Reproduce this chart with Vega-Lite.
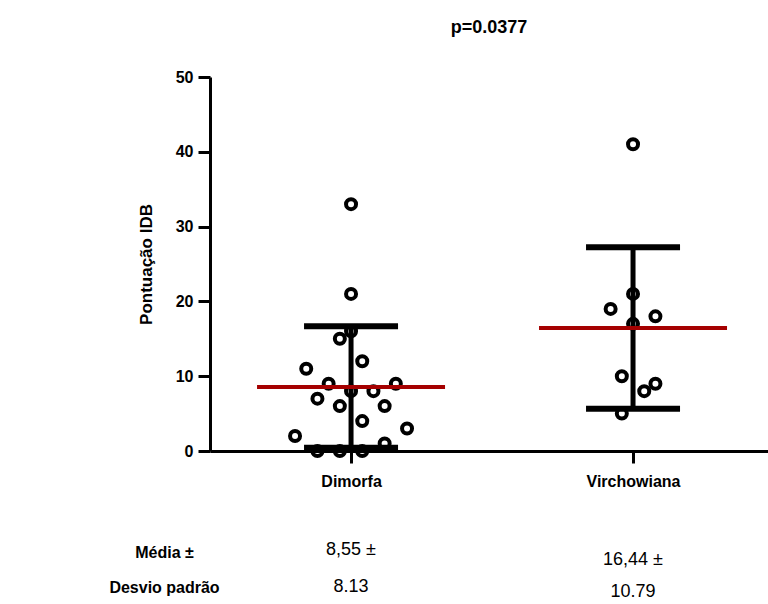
{
  "$schema": "https://vega.github.io/schema/vega-lite/v6.json",
  "autosize": {"type": "none"},
  "width": 558,
  "height": 374,
  "padding": {"left": 210, "top": 77, "right": 0, "bottom": 153},
  "background": "white",
  "title": {
    "text": "p=0.0377",
    "font": "Liberation Sans",
    "fontSize": 18,
    "fontWeight": "bold",
    "color": "black",
    "anchor": "middle",
    "frame": "group",
    "offset": 32
  },
  "config": {
    "view": {"stroke": null},
    "axis": {"grid": false}
  },
  "datasets": {
    "pontos": [
      {"grupo": "Dimorfa", "idb": 33, "col": 0},
      {"grupo": "Dimorfa", "idb": 21, "col": 0},
      {"grupo": "Dimorfa", "idb": 16, "col": 0},
      {"grupo": "Dimorfa", "idb": 15, "col": -1},
      {"grupo": "Dimorfa", "idb": 12, "col": 1},
      {"grupo": "Dimorfa", "idb": 11, "col": -4},
      {"grupo": "Dimorfa", "idb": 9, "col": -2},
      {"grupo": "Dimorfa", "idb": 9, "col": 4},
      {"grupo": "Dimorfa", "idb": 8, "col": 0},
      {"grupo": "Dimorfa", "idb": 8, "col": 2},
      {"grupo": "Dimorfa", "idb": 7, "col": -3},
      {"grupo": "Dimorfa", "idb": 6, "col": -1},
      {"grupo": "Dimorfa", "idb": 6, "col": 3},
      {"grupo": "Dimorfa", "idb": 4, "col": 1},
      {"grupo": "Dimorfa", "idb": 3, "col": 5},
      {"grupo": "Dimorfa", "idb": 2, "col": -5},
      {"grupo": "Dimorfa", "idb": 1, "col": 3},
      {"grupo": "Dimorfa", "idb": 0, "col": -3},
      {"grupo": "Dimorfa", "idb": 0, "col": -1},
      {"grupo": "Dimorfa", "idb": 0, "col": 1},
      {"grupo": "Virchowiana", "idb": 41, "col": 0},
      {"grupo": "Virchowiana", "idb": 21, "col": 0},
      {"grupo": "Virchowiana", "idb": 19, "col": -2},
      {"grupo": "Virchowiana", "idb": 18, "col": 2},
      {"grupo": "Virchowiana", "idb": 17, "col": 0},
      {"grupo": "Virchowiana", "idb": 10, "col": -1},
      {"grupo": "Virchowiana", "idb": 9, "col": 2},
      {"grupo": "Virchowiana", "idb": 8, "col": 1},
      {"grupo": "Virchowiana", "idb": 5, "col": -1}
    ],
    "resumo": [
      {"grupo": "Dimorfa", "media": 8.55, "inf": 0.42, "sup": 16.68},
      {"grupo": "Virchowiana", "media": 16.44, "inf": 5.65, "sup": 27.23}
    ],
    "tabela": [
      {"grupo": "Dimorfa", "linha": -13.3, "texto": "8,55 ±"},
      {"grupo": "Dimorfa", "linha": -18.2, "texto": "8.13"},
      {"grupo": "Virchowiana", "linha": -14.6, "texto": "16,44 ±"},
      {"grupo": "Virchowiana", "linha": -18.9, "texto": "10.79"}
    ]
  },
  "encoding": {
    "x": {
      "field": "grupo",
      "type": "nominal",
      "sort": ["Dimorfa", "Virchowiana"],
      "scale": {"type": "point", "domain": ["Dimorfa", "Virchowiana"], "padding": 0.4894, "align": 0.511},
      "axis": {
        "labelAngle": 0,
        "labelFont": "Liberation Sans",
        "labelFontSize": 16,
        "labelFontWeight": "bold",
        "labelColor": "black",
        "labelPadding": 10,
        "domainColor": "black",
        "domainWidth": 3,
        "tickColor": "black",
        "tickWidth": 3,
        "tickSize": 12,
        "title": ["Média ±", "Desvio padrão"],
        "titleFont": "Liberation Sans",
        "titleFontSize": 16,
        "titleFontWeight": "bold",
        "titleColor": "black",
        "titleX": -46,
        "titleY": 93,
        "titleAlign": "center",
        "titleBaseline": "top",
        "titleLineHeight": 35
      }
    }
  },
  "layer": [
    {
      "data": {"name": "pontos"},
      "mark": {"type": "point", "shape": "circle", "filled": false, "stroke": "black", "strokeWidth": 4, "size": 100, "opacity": 1},
      "encoding": {
        "y": {
          "field": "idb",
          "type": "quantitative",
          "scale": {"domain": [0, 50], "nice": false, "zero": true},
          "axis": {
            "values": [0, 10, 20, 30, 40, 50],
            "labelFont": "Liberation Sans",
            "labelFontSize": 16,
            "labelFontWeight": "bold",
            "labelColor": "black",
            "labelPadding": 5,
            "domainColor": "black",
            "domainWidth": 3,
            "tickColor": "black",
            "tickWidth": 3,
            "tickSize": 12,
            "title": "Pontuação IDB",
            "titleFont": "Liberation Sans",
            "titleFontSize": 17,
            "titleFontWeight": "bold",
            "titleColor": "black",
            "titlePadding": 20
          }
        },
        "xOffset": {"field": "col", "type": "quantitative", "scale": {"domain": [-5, 5], "range": [-56, 56]}}
      }
    },
    {
      "data": {"name": "resumo"},
      "mark": {"type": "rule", "color": "black", "strokeWidth": 5},
      "encoding": {
        "y": {"field": "inf", "type": "quantitative"},
        "y2": {"field": "sup"}
      }
    },
    {
      "data": {"name": "resumo"},
      "mark": {"type": "tick", "color": "black", "size": 94, "thickness": 6, "opacity": 1},
      "encoding": {"y": {"field": "sup", "type": "quantitative"}}
    },
    {
      "data": {"name": "resumo"},
      "mark": {"type": "tick", "color": "black", "size": 94, "thickness": 6, "opacity": 1},
      "encoding": {"y": {"field": "inf", "type": "quantitative"}}
    },
    {
      "data": {"name": "resumo"},
      "mark": {"type": "tick", "color": "#a50000", "size": 188, "thickness": 4, "opacity": 1},
      "encoding": {"y": {"field": "media", "type": "quantitative"}}
    },
    {
      "data": {"name": "tabela"},
      "mark": {"type": "text", "font": "Liberation Sans", "fontSize": 18, "color": "black", "align": "center", "baseline": "middle", "clip": false},
      "encoding": {
        "y": {"field": "linha", "type": "quantitative"},
        "text": {"field": "texto", "type": "nominal"}
      }
    }
  ]
}
